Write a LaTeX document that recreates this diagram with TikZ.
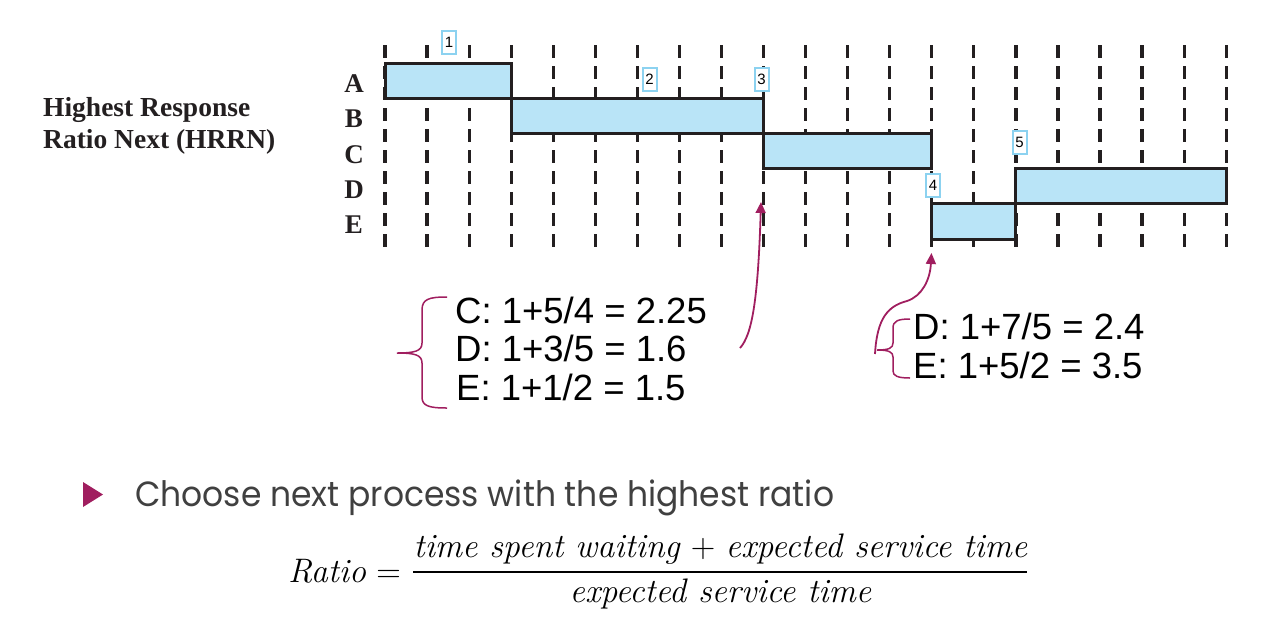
\documentclass[tikz,border=0pt]{standalone}
\usepackage{fontspec}
\usetikzlibrary{arrows.meta}
\newfontfamily\lblfont{Liberation Serif}
\newfontfamily\arialfont{Liberation Sans}
\newfontfamily\geofont{Poppins}
\definecolor{barfill}{RGB}{185,228,247}
\definecolor{barline}{RGB}{35,31,32}
\definecolor{boxline}{RGB}{140,210,240}
\definecolor{mag}{RGB}{160,30,95}
\definecolor{graytext}{RGB}{64,64,64}
\begin{document}
\begin{tikzpicture}[x=1pt,y=-1pt,
  gridline/.style={draw=barline, line width=3.2pt, dash pattern=on 13pt off 8pt},
  bar/.style={draw=barline, fill=barfill, line width=3pt},
  rowlab/.style={font=\lblfont\bfseries\fontsize{27}{30}\selectfont, text=barline, anchor=base, inner sep=0pt},
  titlelab/.style={font=\lblfont\bfseries\fontsize{27.5}{30}\selectfont, text=barline, anchor=base west, inner sep=0pt},
  numbox/.style={draw=boxline, fill=white, line width=2pt, minimum width=14pt, minimum height=23pt, inner sep=0pt, font=\arialfont\fontsize{15}{16}\selectfont},
  ratiotext/.style={font=\arialfont\fontsize{36.5}{40}\selectfont, anchor=base west, inner sep=0pt},
  brace/.style={draw=mag, line width=1.5pt},
  pointer/.style={draw=mag, line width=1.8pt, -{Triangle[length=11pt,width=10pt]}},
  formula/.style={font=\fontsize{34}{38}\selectfont, inner sep=0pt},
]
\useasboundingbox (0,0) rectangle (1280,633);

% title
\node[titlelab] (title1) at (43,116.7) {Highest Response};
\node[titlelab] (title2) at (43,148) {Ratio Next (HRRN)};

% grid
\foreach \k in {0,...,20}
  \draw[gridline] ({385+42.06*\k},45) -- ({385+42.06*\k},247);

% bars
\draw[bar] (385,63) rectangle (511.2,98.2);
\draw[bar] (511.2,98.2) rectangle (763.5,133.4);
\draw[bar] (763.5,133.4) rectangle (931.8,168.6);
\draw[bar] (1015.9,168.6) rectangle (1226.2,203.8);
\draw[bar] (931.8,203.8) rectangle (1015.9,239);

% row labels
\node[rowlab] (labA) at (354,92.7) {A};
\node[rowlab] (labB) at (354,127.9) {B};
\node[rowlab] (labC) at (354,163.1) {C};
\node[rowlab] (labD) at (354,198.3) {D};
\node[rowlab] (labE) at (354,233.5) {E};

% numbered boxes
\node[numbox] (n1) at (449,42) {1};
\node[numbox] (n2) at (649.5,79.5) {2};
\node[numbox] (n3) at (761.5,79.5) {3};
\node[numbox] (n4) at (933,185) {4};
\node[numbox] (n5) at (1019.5,142) {5};

% ratio texts
\node[ratiotext] (rc1) at (455,323.3) {C: 1+5/4 = 2.25};
\node[ratiotext] (rd1) at (455,361.7) {D: 1+3/5 = 1.6};
\node[ratiotext] (re1) at (456,400) {E: 1+1/2 = 1.5};
\node[ratiotext] (rd2) at (913,339.3) {D: 1+7/5 = 2.4};
\node[ratiotext] (re2) at (913,378.3) {E: 1+5/2 = 3.5};

% braces
\draw[brace] (447,297) .. controls (429,297) and (422,299) .. (422,310) -- (422,343)
  .. controls (422,351) and (415,353) .. (397,353)
  .. controls (415,353) and (422,355) .. (422,363) -- (422,397)
  .. controls (422,406) and (429,408) .. (447,408);
\draw[brace] (910,319) .. controls (898,319) and (893,321) .. (893,328) -- (893,343)
  .. controls (893,348) and (889,350) .. (877,350)
  .. controls (889,350) and (893,352) .. (893,357) -- (893,371)
  .. controls (893,376) and (898,378) .. (910,378);

% arrows
\coordinate (s3) at (740,348);
\coordinate (t3) at (761,202);
\coordinate (s4) at (875,354);
\coordinate (t4) at (931.5,253);
\draw[pointer] (s3) .. controls (752,335) and (758,300) .. (t3);
\draw[pointer] (s4) .. controls (877,318) and (888,306) .. (907,301)
  .. controls (922,296) and (930,280) .. (t4);

% bullet
\fill[mag] (83,482) -- (103,494.5) -- (83,507) -- cycle;
\node[font=\geofont\fontsize{35}{40}\selectfont, text=graytext, anchor=base west, inner sep=0pt] (bullettext) at (135,506) {\scalebox{0.942}[1]{Choose next process with the highest ratio}};

% formula
\node[formula, anchor=base west] (ratiolhs) at (288,582) {\textit{Ratio} =};
\node[formula, anchor=base] (numer) at (720.5,557) {\textit{time spent waiting} + \textit{expected service time}};
\draw[line width=1.3pt] (413,572) -- (1027,572);
\node[formula, anchor=base] (denom) at (720.5,602) {\textit{expected service time}};
\end{tikzpicture}
\end{document}
